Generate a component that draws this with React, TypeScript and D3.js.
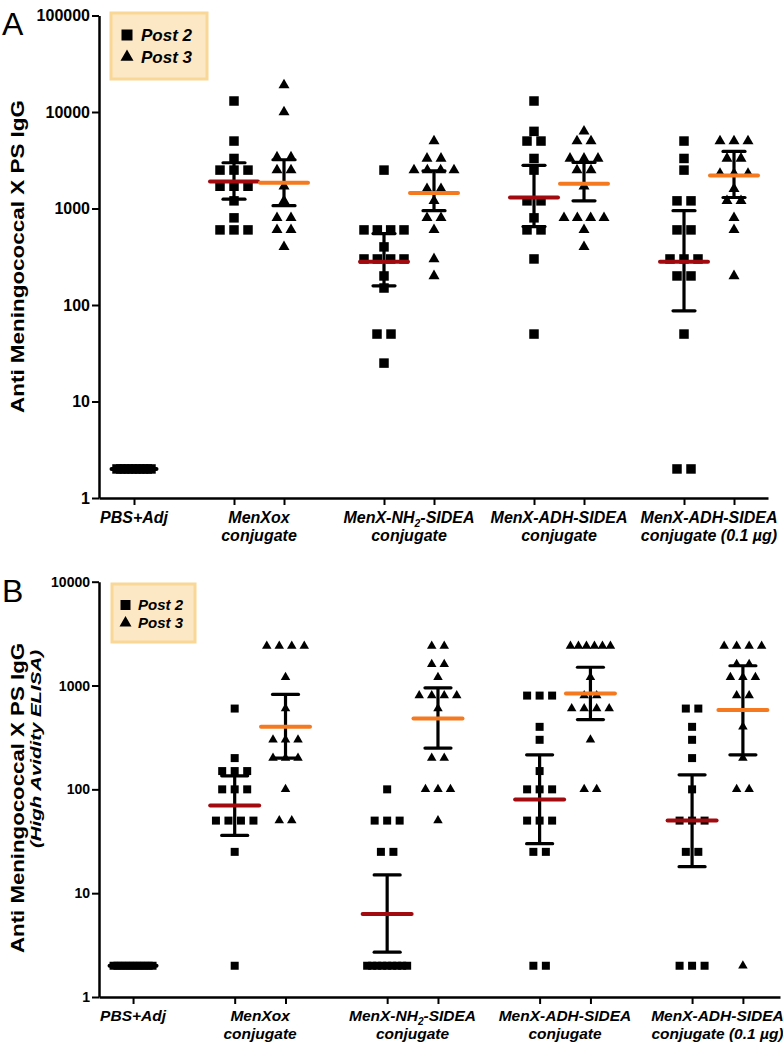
import { useEffect, useRef } from "react";
import * as d3 from "d3";

const categoryTop = ["PBS+Adj", "MenXox", "MenX-NH2-SIDEA", "MenX-ADH-SIDEA", "MenX-ADH-SIDEA"];
const categoryBottom = ["", "conjugate", "conjugate", "conjugate", "conjugate (0.1 µg)"];
const legendLabels = ["Post 2", "Post 3"];

// Panel A - anti MenX PS IgG
const aPBS = [2, 2, 2, 2, 2, 2, 2, 2, 2, 2];
const aMenXoxP2 = [13000, 5000, 3300, 2500, 2500, 2500, 1700, 1700, 1700, 1200, 800, 600, 600, 600];
const aMenXoxP3 = [19000, 10000, 3400, 3400, 2500, 2500, 1700, 1200, 800, 800, 600, 600, 400];
const aNH2P2 = [2500, 600, 600, 600, 600, 400, 300, 300, 300, 300, 200, 150, 50, 50, 25];
const aNH2P3 = [5000, 3300, 3300, 2500, 2500, 2500, 2500, 1600, 1600, 1200, 800, 800, 600, 300, 200];
const aADHP2 = [13000, 6300, 5000, 5000, 3300, 2500, 1200, 1200, 800, 600, 600, 300, 50];
const aADHP3 = [6300, 5000, 5000, 3300, 3300, 3300, 2500, 2500, 1700, 800, 800, 800, 800, 600, 400];
const aADH01P2 = [5000, 3300, 2500, 1200, 1200, 600, 600, 300, 300, 300, 200, 200, 50, 2, 2];
const aADH01P3 = [5000, 5000, 5000, 3300, 3300, 2300, 2300, 2300, 1600, 1200, 1200, 800, 600, 200];
// geometric mean and 95% CI
const aMean = [2, 1900, 1850, 280, 1450, 1300, 1800, 280, 2200];
const aLow = [null, 1250, 1070, 158, 950, 650, 1200, 87, 1300];
const aHigh = [null, 2980, 3200, 550, 2450, 2800, 3000, 950, 3900];

// Panel B - high avidity ELISA
const bPBS = [2, 2, 2, 2, 2, 2, 2, 2, 2, 2, 2];
const bMenXoxP2 = [600, 200, 150, 150, 150, 100, 100, 100, 50, 50, 50, 50, 25, 2];
const bMenXoxP3 = [2400, 2400, 2400, 2400, 1200, 600, 300, 300, 300, 200, 200, 200, 100, 50, 50];
const bNH2P2 = [100, 50, 50, 50, 25, 25, 2, 2, 2, 2, 2, 2, 2, 2, 2];
const bNH2P3 = [2400, 2400, 1600, 1600, 1200, 800, 800, 800, 800, 600, 200, 200, 100, 100, 100, 50];
const bADHP2 = [800, 800, 800, 400, 300, 150, 100, 100, 100, 50, 50, 50, 25, 25, 2, 2];
const bADHP3 = [2400, 2400, 2400, 2400, 2400, 2400, 1200, 800, 800, 600, 600, 600, 600, 300, 100, 100];
const bADH01P2 = [600, 600, 400, 300, 200, 100, 50, 50, 50, 25, 25, 2, 2, 2];
const bADH01P3 = [2400, 2400, 2400, 2400, 1600, 1600, 1200, 1200, 1200, 800, 800, 400, 200, 100, 100, 2];
const bMean = [2, 70, 400, 6.3, 480, 80, 840, 50, 580];
const bLow = [null, 36, 200, 2.7, 250, 30, 470, 18, 215];
const bHigh = [null, 135, 820, 15, 950, 215, 1500, 138, 1550];

const font = "'Liberation Sans', Arial, Helvetica, sans-serif";
const RED = "#a10a0e";
const ORANGE = "#f57a1f";

const panels = [
    {
        letter: "A", letterY: 35,
        yDomain: [1, 100000], yRange: [498, 15.5], yTicks: [1, 10, 100, 1000, 10000, 100000], tickFont: 16,
        xDomain: [-0.7, 12.68], xRange: [99, 768], labelFont: 16, labelY: [523, 541],
        series: [aPBS, aMenXoxP2, aMenXoxP3, aNH2P2, aNH2P3, aADHP2, aADHP3, aADH01P2, aADH01P3],
        mean: aMean, low: aLow, high: aHigh,
        square: 9.5, tri: 11, gap: 14, span: 40, pbsSpan: 34, cap: 11, meanHalf: 24, pbsHalf: 22.5,
        legend: { x: 111, y: 13, w: 96, h: 66, size: 17, rows: [35, 57], mx: 127, tx: 141, sq: 11, tri: 13 },
        titles: [{ text: "Anti Meningococcal X PS IgG", x: 24, y: 256.5, size: 19, len: 313, italic: false }],
    },
    {
        letter: "B", letterY: 602,
        yDomain: [1, 10000], yRange: [997, 581.7], yTicks: [1, 10, 100, 1000, 10000], tickFont: 14,
        xDomain: [-0.67, 12.73], xRange: [99, 780], labelFont: 15.5, labelY: [1021, 1039],
        series: [bPBS, bMenXoxP2, bMenXoxP3, bNH2P2, bNH2P3, bADHP2, bADHP3, bADH01P2, bADH01P3],
        mean: bMean, low: bLow, high: bHigh,
        square: 8, tri: 9.5, gap: 12.5, span: 40, pbsSpan: 39, cap: 13, meanHalf: 24.5, pbsHalf: 23.5,
        legend: { x: 112, y: 584, w: 83, h: 58, size: 15, rows: [605, 623], mx: 125.5, tx: 138, sq: 10, tri: 12 },
        titles: [
            { text: "Anti Meningococcal X PS IgG", x: 24, y: 798, size: 19, len: 310, italic: false },
            { text: "(High Avidity ELISA)", x: 41, y: 749, size: 15, len: 198, italic: true },
        ],
    },
];

// slot of series k on the x axis: PBS alone, then pairs (post 2, post 3) with a gap between groups
const slotOf = (k) => (k === 0 ? 0 : 3 * Math.ceil(k / 2) - 1 + ((k - 1) % 2));

function drawPanel(svg, p) {
    const x = d3.scaleLinear(p.xDomain, p.xRange);
    const y = d3.scaleLog(p.yDomain, p.yRange);

    // y axis
    svg.append("g")
        .attr("transform", `translate(${p.xRange[0]},0)`)
        .call(d3.axisLeft(y).tickValues(p.yTicks).tickFormat(d3.format("d")).tickSize(7).tickSizeOuter(0).tickPadding(2))
        .attr("font-family", font)
        .attr("font-size", p.tickFont)
        .attr("font-weight", "bold")
        .call((g) => g.select(".domain").attr("stroke-width", 2.5))
        .call((g) => g.selectAll(".tick line").attr("stroke-width", 2));

    // x axis
    const slots = p.series.map((_, k) => slotOf(k));
    svg.append("g")
        .attr("transform", `translate(0,${p.yRange[0]})`)
        .call(d3.axisBottom(x).tickValues(slots).tickFormat(() => "").tickSize(7).tickSizeOuter(0))
        .call((g) => g.select(".domain").attr("stroke-width", 2.5))
        .call((g) => g.selectAll(".tick line").attr("stroke-width", 2));

    // category labels
    categoryTop.forEach((label, gi) => {
        const cx = gi === 0 ? x(0) : x(3 * gi - 0.5);
        const t = svg.append("text")
            .attr("x", cx).attr("y", p.labelY[0])
            .attr("text-anchor", "middle")
            .attr("font-family", font).attr("font-size", p.labelFont)
            .attr("font-weight", "bold").attr("font-style", "italic");
        if (label.includes("NH2")) {
            const [a, b] = label.split("NH2");
            t.append("tspan").text(a + "NH");
            t.append("tspan").text("2").attr("font-size", p.labelFont * 0.65).attr("dy", 4);
            t.append("tspan").text(b).attr("dy", -4);
        } else {
            t.text(label);
        }
        if (categoryBottom[gi]) {
            svg.append("text")
                .attr("x", cx).attr("y", p.labelY[1])
                .attr("text-anchor", "middle")
                .attr("font-family", font).attr("font-size", p.labelFont)
                .attr("font-weight", "bold").attr("font-style", "italic")
                .text(categoryBottom[gi]);
        }
    });

    const squareSym = d3.symbol(d3.symbolSquare, p.square * p.square);
    const triSym = d3.symbol(d3.symbolTriangle, (Math.sqrt(3) / 4) * p.tri * p.tri);

    // scatter points, same values spread sideways
    p.series.forEach((vals, k) => {
        const cx = x(slotOf(k));
        const isTri = k > 0 && (k - 1) % 2 === 1;
        const span = k === 0 ? p.pbsSpan : p.span;
        const rows = d3.group(vals, (v) => v);
        rows.forEach((arr, v) => {
            const n = arr.length;
            const step = n > 1 ? Math.min(p.gap, span / (n - 1)) : 0;
            arr.forEach((_, i) => {
                svg.append("path")
                    .attr("d", isTri ? triSym() : squareSym())
                    .attr("transform", `translate(${cx + (i - (n - 1) / 2) * step},${y(v)})`)
                    .attr("fill", "black");
            });
        });
    });

    // error bars
    p.series.forEach((_, k) => {
        if (p.low[k] == null) return;
        const cx = x(slotOf(k));
        const lo = y(p.low[k]);
        const hi = y(p.high[k]);
        const g = svg.append("g").attr("stroke", "black").attr("stroke-width", 3.2);
        g.append("line").attr("x1", cx).attr("x2", cx).attr("y1", lo).attr("y2", hi);
        g.append("line").attr("x1", cx - p.cap).attr("x2", cx + p.cap).attr("y1", lo).attr("y2", lo).attr("stroke-linecap", "round");
        g.append("line").attr("x1", cx - p.cap).attr("x2", cx + p.cap).attr("y1", hi).attr("y2", hi).attr("stroke-linecap", "round");
    });

    // geometric mean lines
    p.series.forEach((_, k) => {
        const cx = x(slotOf(k));
        const half = k === 0 ? p.pbsHalf : p.meanHalf;
        const color = k === 0 ? "black" : (k - 1) % 2 === 0 ? RED : ORANGE;
        svg.append("line")
            .attr("x1", cx - half).attr("x2", cx + half)
            .attr("y1", y(p.mean[k])).attr("y2", y(p.mean[k]))
            .attr("stroke", color).attr("stroke-width", 4).attr("stroke-linecap", "round");
    });

    // legend
    const L = p.legend;
    svg.append("rect")
        .attr("x", L.x).attr("y", L.y).attr("width", L.w).attr("height", L.h)
        .attr("fill", "#fde8c6").attr("stroke", "#f9d796").attr("stroke-width", 3);
    legendLabels.forEach((label, i) => {
        const sym = i === 0
            ? d3.symbol(d3.symbolSquare, L.sq * L.sq)
            : d3.symbol(d3.symbolTriangle, (Math.sqrt(3) / 4) * L.tri * L.tri);
        svg.append("path")
            .attr("d", sym())
            .attr("transform", `translate(${L.mx},${L.rows[i]})`)
            .attr("fill", "black");
        svg.append("text")
            .attr("x", L.tx).attr("y", L.rows[i] + L.size * 0.36)
            .attr("font-family", font).attr("font-size", L.size)
            .attr("font-weight", "bold").attr("font-style", "italic")
            .text(label);
    });

    // y titles
    p.titles.forEach((t) => {
        svg.append("text")
            .attr("transform", `translate(${t.x},${t.y}) rotate(-90)`)
            .attr("text-anchor", "middle")
            .attr("font-family", font).attr("font-size", t.size)
            .attr("font-weight", "bold").attr("font-style", t.italic ? "italic" : "normal")
            .attr("textLength", t.len).attr("lengthAdjust", "spacingAndGlyphs")
            .text(t.text);
    });

    // panel letter
    svg.append("text")
        .attr("x", 2).attr("y", p.letterY)
        .attr("font-family", font).attr("font-size", 32)
        .text(p.letter);
}

const App = () => {
    const ref = useRef(null);

    useEffect(() => {
        document.body.style.margin = "0";
        const width = 783;
        const height = 1043;
        const svg = d3.create("svg")
            .attr("width", width)
            .attr("height", height)
            .attr("viewBox", [0, 0, width, height])
            .style("display", "block")
            .style("background", "white");

        panels.forEach((p) => drawPanel(svg, p));

        ref.current.innerHTML = "";
        ref.current.appendChild(svg.node());
    }, []);

    return <div ref={ref}></div>;
};

export default App;
